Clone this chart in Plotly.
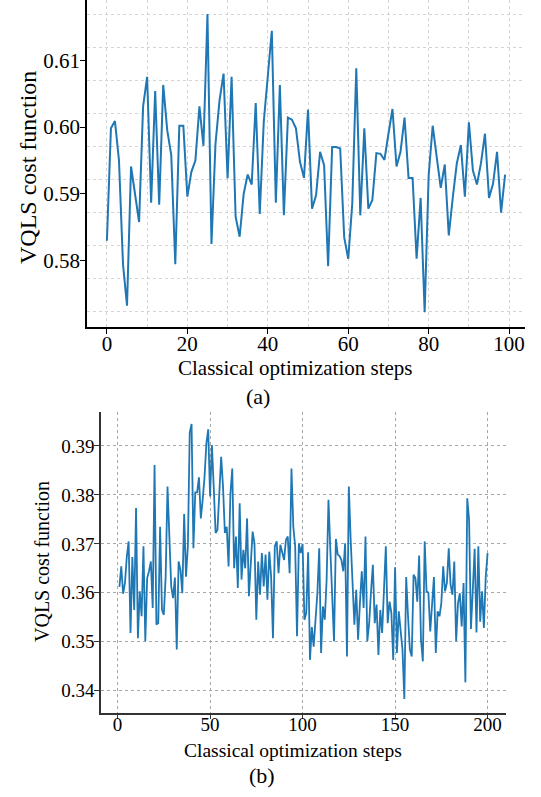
import plotly.graph_objects as go

# ---- Data: panel (a) ----
steps_a = list(range(0, 100))
cost_a = [
    0.5830, 0.5998, 0.6009, 0.5950, 0.5795, 0.5733, 0.5941, 0.5900, 0.5858, 0.6031,
    0.6075, 0.5887, 0.6054, 0.5884, 0.6063, 0.5995, 0.5958, 0.5795, 0.6002, 0.6002,
    0.5896, 0.5933, 0.5950, 0.6031, 0.5972, 0.6169, 0.5825, 0.5975, 0.6040, 0.6080,
    0.5923, 0.6075, 0.5866, 0.5836, 0.5900, 0.5929, 0.5914, 0.6036, 0.5870, 0.6008,
    0.6073, 0.6144, 0.5887, 0.6063, 0.5868, 0.6014, 0.6011, 0.5998, 0.5948, 0.5924,
    0.6026, 0.5878, 0.5898, 0.5963, 0.5943, 0.5792, 0.5970, 0.5970, 0.5968, 0.5835,
    0.5803, 0.5885, 0.6088, 0.5868, 0.5998, 0.5878, 0.5891, 0.5961, 0.5960, 0.5951,
    0.5990, 0.6027, 0.5941, 0.5963, 0.6014, 0.5924, 0.5924, 0.5803, 0.5894, 0.5723,
    0.5928, 0.6002, 0.5955, 0.5909, 0.5944, 0.5838, 0.5895, 0.5946, 0.5973, 0.5896,
    0.6007, 0.5935, 0.5914, 0.5946, 0.5990, 0.5894, 0.5915, 0.5963, 0.5872, 0.5929,
]

# ---- Data: panel (b) ----
steps_b = list(range(1, 201))
cost_b = [
    0.3612, 0.3654, 0.3598, 0.3620, 0.3674, 0.3705, 0.3518, 0.3673, 0.3565, 0.3773,
    0.3507, 0.3603, 0.3552, 0.3695, 0.3501, 0.3630, 0.3644, 0.3664, 0.3569, 0.3861,
    0.3535, 0.3538, 0.3735, 0.3565, 0.3555, 0.3633, 0.3817, 0.3712, 0.3613, 0.3589,
    0.3631, 0.3484, 0.3664, 0.3647, 0.3599, 0.3761, 0.3633, 0.3695, 0.3927, 0.3945,
    0.3691, 0.3805, 0.3805, 0.3836, 0.3752, 0.3790, 0.3836, 0.3905, 0.3934, 0.3797,
    0.3902, 0.3814, 0.3722, 0.3729, 0.3817, 0.3878, 0.3817, 0.3722, 0.3735, 0.3654,
    0.3803, 0.3854, 0.3650, 0.3715, 0.3610, 0.3783, 0.3627, 0.3688, 0.3650, 0.3752,
    0.3593, 0.3661, 0.3725, 0.3701, 0.3545, 0.3664, 0.3596, 0.3681, 0.3613, 0.3678,
    0.3586, 0.3684, 0.3633, 0.3507, 0.3695, 0.3705, 0.3640, 0.3698, 0.3681, 0.3667,
    0.3708, 0.3715, 0.3640, 0.3854, 0.3735, 0.3695, 0.3511, 0.3701, 0.3681, 0.3700,
    0.3545, 0.3559, 0.3683, 0.3463, 0.3530, 0.3490, 0.3545, 0.3599, 0.3691, 0.3477,
    0.3572, 0.3545, 0.3627, 0.3790, 0.3688, 0.3593, 0.3501, 0.3710, 0.3678, 0.3675,
    0.3667, 0.3644, 0.3701, 0.3470, 0.3817, 0.3708, 0.3633, 0.3535, 0.3606, 0.3504,
    0.3579, 0.3644, 0.3569, 0.3715, 0.3501, 0.3538, 0.3603, 0.3657, 0.3538, 0.3576,
    0.3473, 0.3565, 0.3518, 0.3620, 0.3695, 0.3538, 0.3582, 0.3559, 0.3463, 0.3652,
    0.3477, 0.3562, 0.3524, 0.3484, 0.3383, 0.3632, 0.3552, 0.3484, 0.3470, 0.3637,
    0.3630, 0.3582, 0.3676, 0.3504, 0.3460, 0.3705, 0.3603, 0.3600, 0.3521, 0.3589,
    0.3632, 0.3477, 0.3562, 0.3552, 0.3579, 0.3654, 0.3603, 0.3620, 0.3691, 0.3616,
    0.3596, 0.3664, 0.3501, 0.3579, 0.3599, 0.3531, 0.3620, 0.3417, 0.3793, 0.3749,
    0.3526, 0.3606, 0.3690, 0.3519, 0.3695, 0.3541, 0.3603, 0.3528, 0.3633, 0.3681,
]

y_title = "VQLS cost function"
x_title = "Classical optimization steps"
labels = ["(a)", "(b)"]

W, H = 541, 797
FONT = "Liberation Serif, Times New Roman, serif"
BLUE = "#1f77b4"

fig = go.Figure()
fig.add_trace(go.Scatter(x=steps_a, y=cost_a, mode="lines",
                         line=dict(color=BLUE, width=2), xaxis="x", yaxis="y",
                         showlegend=False, hoverinfo="skip"))
fig.add_trace(go.Scatter(x=steps_b, y=cost_b, mode="lines",
                         line=dict(color=BLUE, width=1.8), xaxis="x2", yaxis="y2",
                         showlegend=False, hoverinfo="skip"))

grid_a = "#d4d4d4"
grid_b = "#a8a8a8"

def px_x(p):
    return p / W

def px_y(p):
    return 1 - p / H

fig.update_layout(
    width=W, height=H,
    margin=dict(l=0, r=0, t=0, b=0),
    paper_bgcolor="white", plot_bgcolor="white",
    font=dict(family=FONT, color="black"),
    xaxis=dict(
        domain=[px_x(87), px_x(525)], anchor="y",
        range=[-4.95, 103.95], tickmode="linear", tick0=0, dtick=20,
        showgrid=True, gridcolor=grid_a, griddash="dot", gridwidth=1,
        minor=dict(tick0=0, dtick=10, showgrid=True, gridcolor=grid_a,
                   griddash="dot", gridwidth=1, ticks=""),
        showline=True, linecolor="black", linewidth=1.5,
        ticks="outside", ticklen=5, tickwidth=1.2, tickcolor="black",
        ticklabelstandoff=-8,
        tickfont=dict(size=21, family=FONT), zeroline=False,
    ),
    yaxis=dict(
        domain=[px_y(327), px_y(0)], anchor="x",
        range=[0.5701, 0.6190], tickmode="linear", tick0=0.58, dtick=0.01,
        tickformat=".2f", showgrid=False,
        minor=dict(tick0=0.5971, dtick=0.004928, showgrid=True, gridcolor=grid_a,
                   griddash="dot", gridwidth=1, ticks=""),
        showline=True, linecolor="black", linewidth=1.5,
        ticks="outside", ticklen=5, tickwidth=1.2, tickcolor="black",
        ticklabelstandoff=-4,
        tickfont=dict(size=21, family=FONT), zeroline=False,
    ),
    xaxis2=dict(
        domain=[px_x(101), px_x(506)], anchor="y2",
        range=[-8.95, 209.95], tickmode="linear", tick0=0, dtick=50,
        showgrid=True, gridcolor=grid_b, griddash="dot", gridwidth=1,
        showline=True, linecolor="#333333", linewidth=1.5,
        ticks="outside", ticklen=5, tickwidth=1.2, tickcolor="#333333",
        ticklabelstandoff=-11,
        tickfont=dict(size=19, family=FONT), zeroline=False,
    ),
    yaxis2=dict(
        domain=[px_y(712.7), px_y(411.7)], anchor="x2",
        range=[0.3355, 0.3970], tickmode="linear", tick0=0.34, dtick=0.01,
        tickformat=".2f",
        showgrid=True, gridcolor=grid_b, griddash="dot", gridwidth=1,
        showline=True, linecolor="#333333", linewidth=1.5,
        ticks="outside", ticklen=5, tickwidth=1.2, tickcolor="#333333",
        ticklabelstandoff=-4,
        tickfont=dict(size=19, family=FONT), zeroline=False,
    ),
)

ann = [
    dict(text=x_title, x=px_x(295), y=px_y(368), size=21),
    dict(text=labels[0], x=px_x(258), y=px_y(397), size=22),
    dict(text=y_title, x=px_x(28), y=px_y(168), size=24, angle=-90),
    dict(text=x_title, x=px_x(293), y=px_y(750), size=19.5),
    dict(text=labels[1], x=px_x(262), y=px_y(775), size=22),
    dict(text=y_title, x=px_x(42), y=px_y(562), size=20, angle=-90),
]
for a in ann:
    fig.add_annotation(text=a["text"], x=a["x"], y=a["y"], xref="paper", yref="paper",
                       xanchor="center", yanchor="middle", showarrow=False,
                       textangle=a.get("angle", 0),
                       font=dict(family=FONT, size=a["size"], color="black"))

fig.write_html("out.html", config={"displayModeBar": False},
               post_script="document.body.style.margin='0px';document.body.style.overflow='hidden';")
